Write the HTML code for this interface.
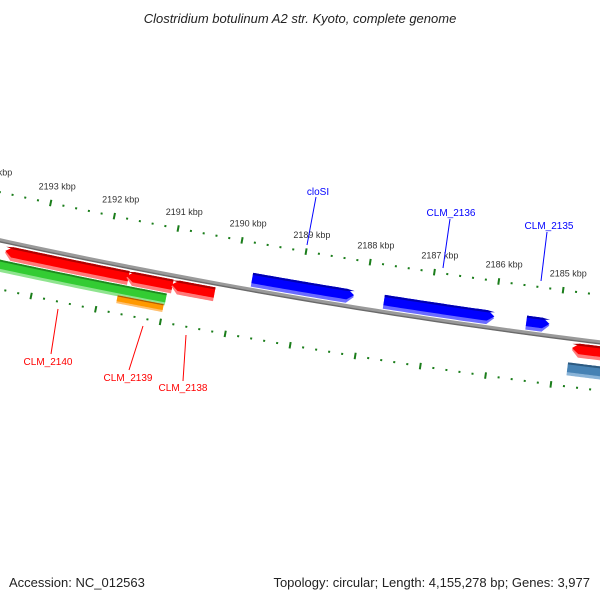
<!DOCTYPE html>
<html><head><meta charset="utf-8"><style>
html,body{margin:0;padding:0;background:#fff}
svg{display:block}
text{font-family:"Liberation Sans",sans-serif}
</style></head><body>
<svg id="map" width="600" height="600" viewBox="0 0 600 600" xmlns="http://www.w3.org/2000/svg">
<text x="300" y="23" text-anchor="middle" font-size="13" font-style="italic" fill="#222">Clostridium botulinum A2 str. Kyoto, complete genome</text>
<g id="ticks"></g>
<g id="backbone"></g>
<g id="features"></g>
<g id="labels">
<line x1="316" y1="197" x2="307" y2="245" stroke="#0000ff" stroke-width="1"/>
<text x="318" y="195" text-anchor="middle" font-size="10" fill="#0000ff">cloSI</text>
<line x1="450" y1="219" x2="443" y2="268" stroke="#0000ff" stroke-width="1"/>
<text x="451" y="216" text-anchor="middle" font-size="10" fill="#0000ff">CLM_2136</text>
<line x1="547" y1="232" x2="541" y2="281" stroke="#0000ff" stroke-width="1"/>
<text x="549" y="229" text-anchor="middle" font-size="10" fill="#0000ff">CLM_2135</text>
<line x1="58" y1="309" x2="51" y2="354" stroke="#ff0000" stroke-width="1"/>
<text x="48" y="365" text-anchor="middle" font-size="10" fill="#ff0000">CLM_2140</text>
<line x1="143" y1="326" x2="129" y2="370" stroke="#ff0000" stroke-width="1"/>
<text x="128" y="381" text-anchor="middle" font-size="10" fill="#ff0000">CLM_2139</text>
<line x1="186" y1="335" x2="183" y2="381" stroke="#ff0000" stroke-width="1"/>
<text x="183" y="391" text-anchor="middle" font-size="10" fill="#ff0000">CLM_2138</text>
</g>
<text x="9" y="587" font-size="13" fill="#222">Accession: NC_012563</text>
<text x="590" y="587" text-anchor="end" font-size="13" fill="#222">Topology: circular; Length: 4,155,278 bp; Genes: 3,977</text>
</svg>
<script>
// data
var tickKbp = [2185,2186,2187,2188,2189,2190,2191,2192,2193,2194];
var featNames = ["cloSI","CLM_2136","CLM_2135","CLM_2134","CLM_2134b","CLM_2140","CLM_2139a","CLM_2138","CLM_2140b","CLM_2139"];
var featStart = [2188163,2185992,2185140,2184200,2184200,2191605,2190922,2190271,2190984,2191000];
var featEnd   = [2189744,2187698,2185496,2184752,2184783,2193527,2191636,2190938,2193589,2191713];
var featTrack = ["fwd","fwd","fwd","rev","rev2","rev","rev","rev","rev2","rev3"];
var featArrow = ["low","low","low","high","none","high","high","high","none","none"];

var NS="http://www.w3.org/2000/svg";
var CX=1424, CY=-6320, R=6713, A0=1.7393, K=9.75e-6, B0=2189000;
function ang(bp){return A0+(bp-B0)*K;}
function pt(bp,r){var a=ang(bp);return [CX+r*Math.cos(a),CY+r*Math.sin(a)];}
function ptA(a,r){return [CX+r*Math.cos(a),CY+r*Math.sin(a)];}
function mk(tag,attrs,parent){var e=document.createElementNS(NS,tag);for(var k in attrs)e.setAttribute(k,attrs[k]);parent.appendChild(e);return e;}
function arcPath(b1,b2,r){var s="",n=40;for(var i=0;i<=n;i++){var p=pt(b1+(b2-b1)*i/n,r);s+=(i?"L":"M")+p[0].toFixed(2)+","+p[1].toFixed(2);}return s;}

// backbone
var bb=document.getElementById("backbone");
var bbl=mk("path",{d:arcPath(2183000,2195000,R),fill:"none",stroke:"#9a9a9a","stroke-width":4},bb);


var bbd=mk("path",{d:arcPath(2183000,2195000,R+1.6),fill:"none",stroke:"#6a6a6a","stroke-width":1.4},bb);



// ticks
var tg=document.getElementById("ticks");
var rings=[R-47,R+48];
for(var ri=0;ri<rings.length;ri++){
  var rr=rings[ri];
  for(var bp=2184000;bp<=2194400;bp+=200){
    var major=(bp%1000===0);
    var len=major?6.5:2;
    var p1=pt(bp,rr-len/2),p2=pt(bp,rr+len/2);
    var t=mk("line",{x1:p1[0],y1:p1[1],x2:p2[0],y2:p2[1],stroke:"#1a7d1a","stroke-width":2},tg);
    
    
  }
}
for(var i=0;i<tickKbp.length;i++){
  var lp=pt(tickKbp[i]*1000,R-47-17);
  var tx=mk("text",{x:(lp[0]+3).toFixed(1),y:(lp[1]+3).toFixed(1),"text-anchor":"middle","font-size":"9",fill:"#333"},tg);
  tx.textContent=tickKbp[i]+" kbp";
  
  
}

// features
var tracks={fwd:[R-17,R-3],rev:[R+4,R+18],rev2:[R+19,R+31],rev3:[R+30,R+38]};
var colors={fwd:["#0000ff","#0000b0","#6b6bff"],rev:["#ff0000","#b00000","#ff7a7a"],rev2:["#33cc33","#1f8a1f","#8fe48f"],rev3:["#ff9900","#b05a00","#ffc070"]};
function shape(b1,b2,r1,r2,arrow){
  var tip=7,n=30,pts=[];
  var a1=ang(b1),a2=ang(b2);
  var lo=a1,hi=a2;
  if(arrow==="low")lo=a1+tip/r1;
  if(arrow==="high")hi=a2-tip/r1;
  for(var i=0;i<=n;i++)pts.push(ptA(lo+(hi-lo)*i/n,r2));
  if(arrow==="high")pts.push(ptA(a2,(r1+r2)/2));
  for(var i=n;i>=0;i--)pts.push(ptA(lo+(hi-lo)*i/n,r1));
  if(arrow==="low")pts.push(ptA(a1,(r1+r2)/2));
  return "M"+pts.map(function(p){return p[0].toFixed(2)+","+p[1].toFixed(2);}).join("L")+"Z";
}
var fg=document.getElementById("features");
for(var i=0;i<featNames.length;i++){
  var tk=featTrack[i],r=tracks[tk],c=colors[tk];
  if(i===4){c=["#4682b4","#2d5a80","#8ab4d8"];r=[R+24,R+37];}
  var g=mk("g",{},fg);
  
  
  var h=r[1]-r[0];
  mk("path",{d:shape(featStart[i],featEnd[i],r[0],r[1],featArrow[i]),fill:c[2]},g);
  mk("path",{d:shape(featStart[i],featEnd[i],r[0],r[1]-h*0.25,featArrow[i]),fill:c[0]},g);
  mk("path",{d:shape(featStart[i],featEnd[i],r[0],r[0]+h*0.15,featArrow[i]),fill:c[1]},g);
}
</script>
</body></html>
